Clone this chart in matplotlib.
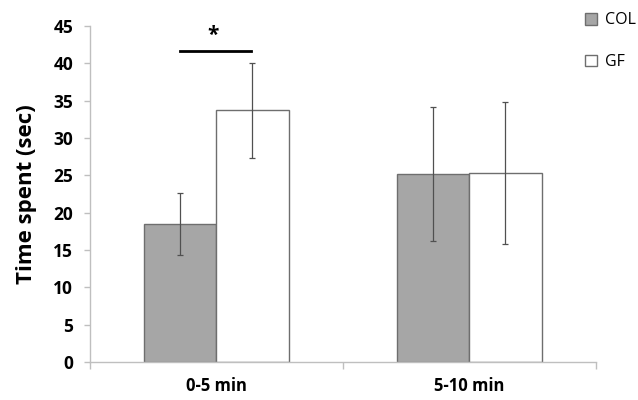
import matplotlib
matplotlib.use("Agg")
import matplotlib.pyplot as plt
import numpy as np
from matplotlib.patches import Patch

# ── data ──────────────────────────────────────────────────────────────────────
CATEGORIES = ["0-5 min", "5-10 min"]
COL_MEAN   = [18.5, 25.2]
COL_ERR    = [4.15, 9.0]
GF_MEAN    = [33.7, 25.35]
GF_ERR     = [6.4, 9.5]
Y_TICKS    = [0, 5, 10, 15, 20, 25, 30, 35, 40, 45]

COL_COLOR  = "#a6a6a6"
GF_COLOR   = "#ffffff"
EDGE       = "#6e6e6e"
SPINE      = "#bfbfbf"

plt.rcParams['font.family'] = ['Open Sans', 'DejaVu Sans']

fig = plt.figure(figsize=(6.38, 4.0), dpi=100)
ax = fig.add_axes([0.141, 0.095, 0.793, 0.84])

x = np.arange(len(CATEGORIES))
w = 0.285
ax.bar(x - w / 2, COL_MEAN, w, color=COL_COLOR, edgecolor=EDGE, linewidth=1.0,
       yerr=COL_ERR, error_kw=dict(ecolor="#505050", elinewidth=0.9, capsize=2, capthick=0.9))
ax.bar(x + w / 2, GF_MEAN, w, color=GF_COLOR, edgecolor=EDGE, linewidth=1.0,
       yerr=GF_ERR, error_kw=dict(ecolor="#505050", elinewidth=0.9, capsize=2, capthick=0.9))

# significance marker
ax.plot([x[0] - 0.145, x[0] + 0.135], [41.7, 41.7], color="black", lw=2)
ax.text(x[0] - 0.015, 42.3, "*", ha="center", va="bottom", fontsize=15, fontweight="bold")

ax.set_xlim(-0.5, len(CATEGORIES) - 0.5)
ax.set_ylim(0, 45)
ax.set_yticks(Y_TICKS)
ax.set_yticklabels([str(t) for t in Y_TICKS], fontsize=12.5, fontweight="bold")

ax.set_xticks(np.arange(len(CATEGORIES) + 1) - 0.5)
ax.set_xticklabels([])
ax.set_xticks(x, minor=True)
ax.set_xticklabels(CATEGORIES, minor=True, fontsize=12, fontweight="bold")
ax.tick_params(axis="x", which="major", length=5, color=SPINE, width=1)
ax.tick_params(axis="x", which="minor", length=0, pad=11)
ax.tick_params(axis="y", length=4, color=SPINE, width=1, pad=8)

for s in ["top", "right"]:
    ax.spines[s].set_visible(False)
for s in ["left", "bottom"]:
    ax.spines[s].set_color(SPINE)
    ax.spines[s].set_linewidth(1)

ax.set_ylabel("Time spent (sec)", fontsize=16, fontweight="bold", labelpad=12)

handles = [Patch(facecolor=COL_COLOR, edgecolor=EDGE, label="COL"),
           Patch(facecolor=GF_COLOR, edgecolor=EDGE, label="GF")]
fig.legend(handles=handles, loc="upper left", bbox_to_anchor=(0.895, 1.005),
           frameon=False, fontsize=11.5, handlelength=0.75, handleheight=0.75,
           handletextpad=0.5, labelspacing=1.6)

fig.savefig("out.png", dpi=100)
